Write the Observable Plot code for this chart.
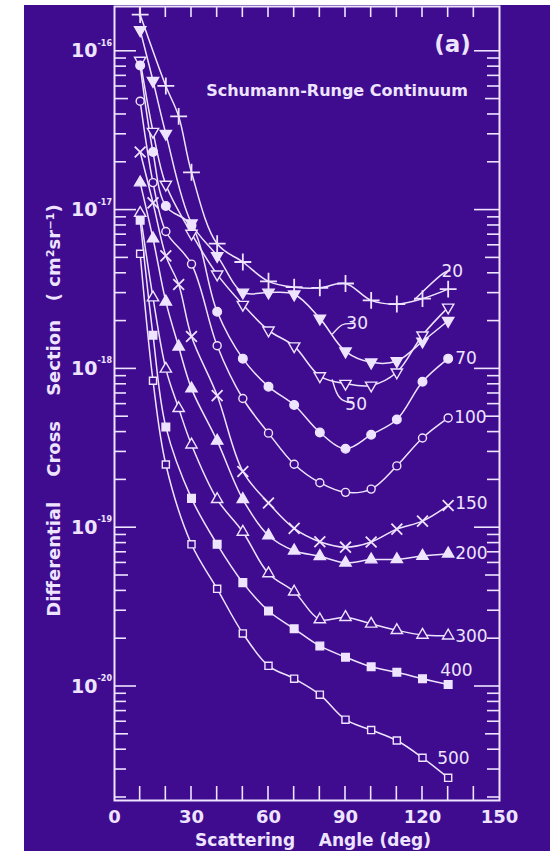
<!DOCTYPE html>
<html><head><meta charset="utf-8">
<script src="https://cdn.jsdelivr.net/npm/d3@7"></script>
<script src="https://cdn.jsdelivr.net/npm/@observablehq/plot@0.6"></script>
<style>
html,body{margin:0;padding:0;background:#ffffff;}
#panel{position:absolute;left:24px;top:5px;width:526px;height:846px;background:#3f0c8f;overflow:hidden;}
#panel svg text{white-space:pre;}
</style></head><body><div id="panel"></div>
<script>
// ---- data ----
const energies = [20, 30, 50, 70, 100, 150, 200, 300, 400, 500];
const energyLabels = ["20", "30", "50", "70", "100", "150", "200", "300", "400", "500"];

const angles20 = [10, 20, 25, 30, 40, 50, 60, 70, 80, 90, 100, 110, 120, 130];
const cs20 = [1.70e-16, 6.05e-17, 3.89e-17, 1.73e-17, 6.14e-18, 4.71e-18, 3.56e-18, 3.27e-18, 3.24e-18, 3.45e-18, 2.70e-18, 2.56e-18, 2.77e-18, 3.18e-18];

const angles30 = [10, 15, 20, 30, 40, 50, 60, 70, 80, 90, 100, 110, 120, 130];
const cs30 = [1.36e-16, 6.52e-17, 3.03e-17, 8.26e-18, 5.15e-18, 3.03e-18, 3.03e-18, 2.95e-18, 2.08e-18, 1.29e-18, 1.10e-18, 1.12e-18, 1.49e-18, 2.01e-18];

const angles50 = [10, 15, 20, 30, 40, 50, 60, 70, 80, 90, 100, 110, 120, 130];
const cs50 = [8.75e-17, 3.12e-17, 1.45e-17, 7.12e-18, 3.94e-18, 2.54e-18, 1.75e-18, 1.39e-18, 9.01e-19, 8.07e-19, 7.87e-19, 9.53e-19, 1.63e-18, 2.44e-18];

const angles70 = [10, 15, 20, 30, 40, 50, 60, 70, 80, 90, 100, 110, 120, 130];
const cs70 = [8.13e-17, 2.32e-17, 1.06e-17, 8.01e-18, 2.29e-18, 1.16e-18, 7.73e-19, 5.92e-19, 3.98e-19, 3.14e-19, 3.85e-19, 4.80e-19, 8.30e-19, 1.16e-18];

const angles100 = [10, 15, 20, 30, 40, 50, 60, 70, 80, 90, 100, 110, 120, 130];
const cs100 = [4.85e-17, 1.49e-17, 7.33e-18, 4.57e-18, 1.40e-18, 6.51e-19, 3.94e-19, 2.51e-19, 1.92e-19, 1.67e-19, 1.75e-19, 2.45e-19, 3.67e-19, 4.91e-19];

const angles150 = [10, 15, 20, 25, 30, 40, 50, 60, 70, 80, 90, 100, 110, 120, 130];
const cs150 = [2.32e-17, 1.11e-17, 5.15e-18, 3.40e-18, 1.60e-18, 6.79e-19, 2.26e-19, 1.43e-19, 9.90e-20, 8.16e-20, 7.54e-20, 8.13e-20, 9.80e-20, 1.10e-19, 1.38e-19];

const angles200 = [10, 15, 20, 25, 30, 40, 50, 60, 70, 80, 90, 100, 110, 120, 130];
const cs200 = [1.49e-17, 6.62e-18, 2.65e-18, 1.38e-18, 7.51e-19, 3.52e-19, 1.51e-19, 8.93e-20, 7.16e-20, 6.61e-20, 6.01e-20, 6.30e-20, 6.32e-20, 6.64e-20, 6.86e-20];

const angles300 = [10, 15, 20, 25, 30, 40, 50, 60, 70, 80, 90, 100, 110, 120, 130];
const cs300 = [9.57e-18, 2.81e-18, 1.00e-18, 5.65e-19, 3.33e-19, 1.51e-19, 9.40e-20, 5.15e-20, 3.95e-20, 2.64e-20, 2.73e-20, 2.48e-20, 2.26e-20, 2.11e-20, 2.09e-20];

const angles400 = [10, 15, 20, 30, 40, 50, 60, 70, 80, 90, 100, 110, 120, 130];
const cs400 = [8.63e-18, 1.63e-18, 4.31e-19, 1.53e-19, 7.86e-20, 4.51e-20, 2.99e-20, 2.31e-20, 1.80e-20, 1.53e-20, 1.33e-20, 1.23e-20, 1.12e-20, 1.03e-20];

const angles500 = [10, 15, 20, 30, 40, 50, 60, 70, 80, 90, 100, 110, 120, 130];
const cs500 = [5.30e-18, 8.42e-19, 2.50e-19, 7.86e-20, 4.12e-20, 2.16e-20, 1.35e-20, 1.12e-20, 8.88e-21, 6.18e-21, 5.32e-21, 4.57e-21, 3.56e-21, 2.66e-21];

// axis ticks
const xTickLabels = [0, 30, 60, 90, 120, 150];
const xMinorTicks = [10, 20, 30, 40, 50, 60, 70, 80, 90, 100, 110, 120, 130, 140];
const yDecades = [1e-20, 1e-19, 1e-18, 1e-17, 1e-16];
const yDecadeExponents = ["-20", "-19", "-18", "-17", "-16"];
const yMinorMultipliers = [2, 3, 4, 5, 6, 7, 8, 9];
const yMinorDecades = [1e-21, 1e-20, 1e-19, 1e-18, 1e-17, 1e-16];

// ---- build table ----
const anglesBy = {20: angles20, 30: angles30, 50: angles50, 70: angles70, 100: angles100, 150: angles150, 200: angles200, 300: angles300, 400: angles400, 500: angles500};
const csBy = {20: cs20, 30: cs30, 50: cs50, 70: cs70, 100: cs100, 150: cs150, 200: cs200, 300: cs300, 400: cs400, 500: cs500};
const rows = energies.flatMap(e => anglesBy[e].map((a, i) => ({energy: e, angle: a, cs: csBy[e][i]})));
const lastOf = e => rows.filter(r => r.energy === e).slice(-1);

const fg = "#eee4ff";
const bg = "#3f0c8f";

const triDown = {
  draw(ctx, size) {
    const y = -Math.sqrt(size / (Math.sqrt(3) * 3));
    ctx.moveTo(0, -y * 2);
    ctx.lineTo(-Math.sqrt(3) * y, y);
    ctx.lineTo(Math.sqrt(3) * y, y);
    ctx.closePath();
  }
};
const markerStyle = {
  20: {symbol: "plus", fill: "none", r: 5.5, strokeWidth: 1.8},
  30: {symbol: triDown, fill: fg, r: 4.2},
  50: {symbol: triDown, fill: bg, r: 4.2},
  70: {symbol: "circle", fill: fg, r: 4.3},
  100: {symbol: "circle", fill: bg, r: 4},
  150: {symbol: "times", fill: "none", r: 5, strokeWidth: 1.8},
  200: {symbol: "triangle", fill: fg, r: 4.2},
  300: {symbol: "triangle", fill: bg, r: 4.2},
  400: {symbol: "square", fill: fg, r: 4.3},
  500: {symbol: "square", fill: bg, r: 4}
};

// labels placed next to the last point of each curve (offsets in px)
const labelOffset = {
  70: [7, 0], 100: [6, 0], 150: [7, -2], 200: [7, 0], 300: [7, 1], 400: [-8, -14], 500: [-11, -19]
};

function axisTicks(index, scales, values, dim) {
  const {x, y} = scales;
  const L = dim.marginLeft, R = dim.width - dim.marginRight;
  const T = dim.marginTop, B = dim.height - dim.marginBottom;
  const g = d3.create("svg:g").attr("stroke", fg).attr("stroke-width", 1.6).attr("fill", "none");
  for (const v of yDecades) {
    const yy = y(v);
    g.append("line").attr("x1", L).attr("x2", L + 22).attr("y1", yy).attr("y2", yy);
    g.append("line").attr("x1", R).attr("x2", R - 25).attr("y1", yy).attr("y2", yy);
  }
  for (const d of yMinorDecades) for (const m of yMinorMultipliers) {
    const yy = y(d * m);
    if (!(yy > T + 2 && yy < B - 2)) continue;
    const len = m === 5 ? 14 : 12;
    g.append("line").attr("x1", L).attr("x2", L + len).attr("y1", yy).attr("y2", yy);
    g.append("line").attr("x1", R).attr("x2", R - len).attr("y1", yy).attr("y2", yy);
  }
  for (const v of xMinorTicks) {
    const xx = x(v);
    g.append("line").attr("x1", xx).attr("x2", xx).attr("y1", B).attr("y2", B - 14);
    g.append("line").attr("x1", xx).attr("x2", xx).attr("y1", T).attr("y2", T + 11);
  }
  return g.node();
}

// interpolate a point on a curve (log space) at a given angle
function onCurve(e, a) {
  const A = anglesBy[e], C = csBy[e];
  for (let i = 1; i < A.length; i++) {
    if (a <= A[i]) {
      const t = (a - A[i - 1]) / (A[i] - A[i - 1]);
      return [a, Math.exp(Math.log(C[i - 1]) * (1 - t) + Math.log(C[i]) * t)];
    }
  }
  return [A[A.length - 1], C[C.length - 1]];
}

// leader lines for 20, 30, 50 (start on the curve; path offsets in px)
const leaders = [
  {e: 20, at: 117, path: [[30, -29], [36, -29]], label: [38, -29]},
  {e: 30, at: 85, path: [[7, -8], [12, -11], [23, -11]], label: [25, -11]},
  {e: 50, at: 85, path: [[4, 14], [10, 22], [22, 24]], label: [24, 25]}
];
function leaderMark(index, scales, values, dim) {
  const {x, y} = scales;
  const g = d3.create("svg:g");
  for (const ld of leaders) {
    const [a, c] = onCurve(ld.e, ld.at);
    const x0 = x(a), y0 = y(c);
    const pts = [[x0, y0], ...ld.path.map(([dx, dy]) => [x0 + dx, y0 + dy])];
    g.append("path").attr("d", d3.line().curve(d3.curveBasis)(pts)).attr("fill", "none").attr("stroke", fg).attr("stroke-width", 1.4);
    g.append("text").attr("x", x0 + ld.label[0]).attr("y", y0 + ld.label[1]).attr("dy", "0.36em")
      .attr("fill", fg).attr("font-size", 17).attr("font-family", "DejaVu Sans").text(energyLabels[energies.indexOf(ld.e)]);
  }
  return g.node();
}

const marks = [
  Plot.frame({stroke: fg, strokeWidth: 2}),
  axisTicks,
  Plot.line(rows, {x: "angle", y: "cs", z: "energy", curve: "catmull-rom", stroke: fg, strokeWidth: 1.5, clip: true}),
];
for (const e of energies) {
  const s = markerStyle[e];
  marks.push(Plot.dot(rows.filter(r => r.energy === e), {
    x: "angle", y: "cs", symbol: s.symbol, r: s.r, fill: s.fill, stroke: fg,
    strokeWidth: s.strokeWidth ?? 1.4, clip: true
  }));
}
for (const e of Object.keys(labelOffset).map(Number)) {
  const [dx, dy] = labelOffset[e];
  marks.push(Plot.text(lastOf(e), {
    x: "angle", y: "cs", text: () => energyLabels[energies.indexOf(e)], dx, dy,
    textAnchor: "start", fill: fg, fontSize: 17
  }));
}
marks.push(leaderMark);
// tick labels
marks.push(Plot.text(xTickLabels, {x: d => d, frameAnchor: "bottom", dy: 17, lineAnchor: "middle", text: d => String(d), fill: fg, fontSize: 18, fontWeight: "bold"}));
marks.push(Plot.text(yDecades, {y: d => d, frameAnchor: "left", dx: -17, textAnchor: "end", lineAnchor: "middle", text: () => "10", fill: fg, fontSize: 19, fontWeight: "bold"}));
marks.push(Plot.text(yDecades, {y: d => d, frameAnchor: "left", dx: -17, dy: -8, textAnchor: "start", lineAnchor: "middle", text: (d, i) => yDecadeExponents[i], fill: fg, fontSize: 8, fontWeight: "bold"}));
// titles
marks.push(Plot.text(["Scattering    Angle (deg)"], {frameAnchor: "bottom", dy: 40, dx: 6, lineAnchor: "middle", textAnchor: "middle", text: d => d, fill: fg, fontSize: 17, fontWeight: "bold"}));
marks.push(Plot.text(["Differential    Cross    Section   ( cm\u00B2sr\u207B\u00B9)"], {frameAnchor: "left", dx: -60, dy: 7, rotate: -90, textAnchor: "middle", lineAnchor: "middle", text: d => d, fill: fg, fontSize: 18, fontWeight: "bold"}));
marks.push(Plot.text(["(a)"], {frameAnchor: "top-right", dx: -47, dy: 38, textAnchor: "middle", lineAnchor: "middle", text: d => d, fill: fg, fontSize: 23, fontWeight: "bold"}));
marks.push(Plot.text(["Schumann-Runge Continuum"], {frameAnchor: "top", dx: 30, dy: 84, textAnchor: "middle", lineAnchor: "middle", text: d => d, fill: fg, fontSize: 16, fontWeight: "bold"}));

const chart = Plot.plot({
  width: 526, height: 846,
  marginLeft: 90, marginRight: 51, marginTop: 1, marginBottom: 51,
  style: {background: "transparent", color: fg, fontFamily: "DejaVu Sans", overflow: "visible"},
  x: {domain: [0, 150], axis: null},
  y: {type: "log", domain: [1.915e-21, 1.914e-16], axis: null},
  marks
});
document.getElementById("panel").appendChild(chart);
</script>
</body></html>
